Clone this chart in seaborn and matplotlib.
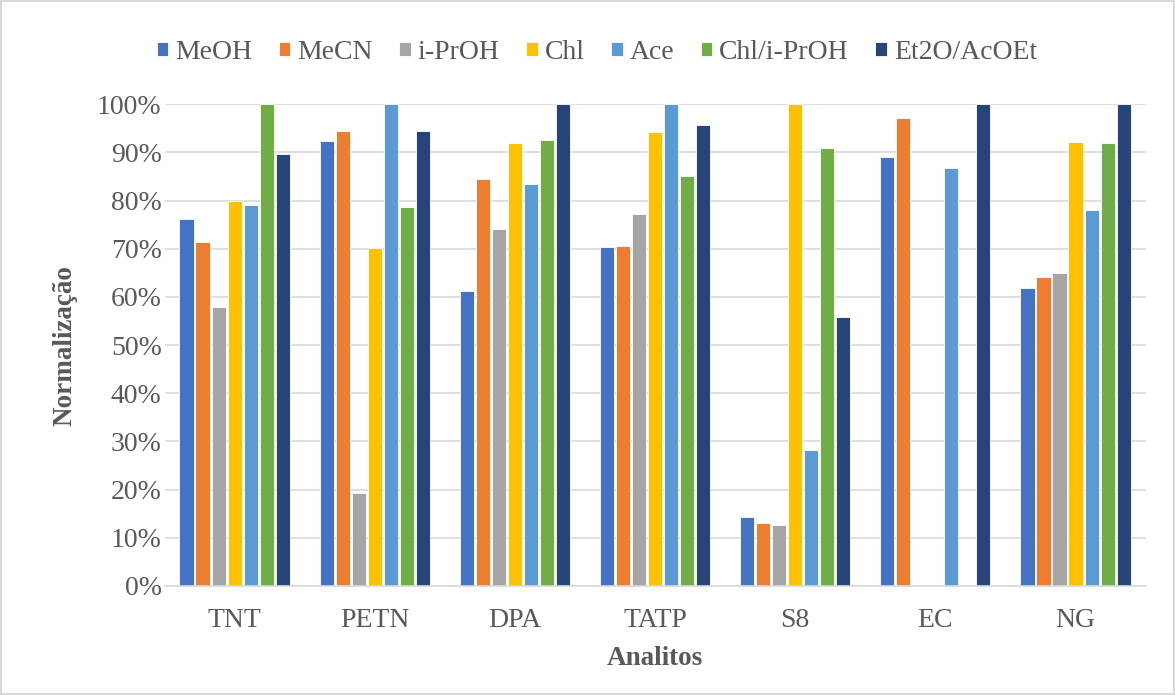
import pandas as pd
import numpy as np
import matplotlib.pyplot as plt
import seaborn as sns

analitos = ['TNT', 'PETN', 'DPA', 'TATP', 'S8', 'EC', 'NG']
solventes = ['MeOH', 'MeCN', 'i-PrOH', 'Chl', 'Ace', 'Chl/i-PrOH', 'Et2O/AcOEt']

# valores normalizados (%) por solvente, na ordem dos analitos
meoh      = [76.2, 92.3, 61.2, 70.4, 14.3, 89.0, 61.8]
mecn      = [71.5, 94.4, 84.4, 70.5, 13.0, 97.1, 64.1]
iproh     = [58.0, 19.2, 74.0, 77.2, 12.6, 0.0, 64.9]
chl       = [80.0, 70.2, 92.0, 94.2, 100.0, 0.0, 92.1]
ace       = [79.0, 100.0, 83.5, 100.0, 28.2, 86.8, 78.1]
chl_iproh = [100.0, 78.6, 92.6, 85.2, 90.9, 0.0, 91.9]
et2o      = [89.6, 94.4, 100.0, 95.6, 55.9, 100.0, 100.0]

cores = ['#4472C4', '#ED7D31', '#A5A5A5', '#FFC000', '#5B9BD5', '#70AD47', '#264478']

series = [meoh, mecn, iproh, chl, ace, chl_iproh, et2o]
df = pd.DataFrame([
    {'Analito': a, 'Solvente': s, 'Valor': v}
    for s, vals in zip(solventes, series)
    for a, v in zip(analitos, vals)
])

sns.set_style('white')
plt.rcParams['font.family'] = ['Liberation Serif', 'DejaVu Serif']

fig, ax = plt.subplots(figsize=(11.75, 6.95), dpi=100)
fig.patch.set_facecolor('white')
fig.patch.set_edgecolor('#D9D9D9')
fig.patch.set_linewidth(1.5)
fig.subplots_adjust(left=0.14, right=0.975, top=0.85, bottom=0.157)

sns.barplot(data=df, x='Analito', y='Valor', hue='Solvente',
            order=analitos, hue_order=solventes, palette=cores, saturation=1,
            width=0.8, gap=0.12, edgecolor='white', linewidth=0.6,
            errorbar=None, ax=ax)

ax.set_ylim(0, 100)
ax.set_yticks(np.arange(0, 101, 10))
ax.set_yticklabels([f'{t}%' for t in range(0, 101, 10)])
ax.tick_params(axis='both', labelsize=20, colors='#595959', length=0)
ax.tick_params(axis='y', pad=2)
ax.tick_params(axis='x', pad=16)
ax.yaxis.grid(True, color='#D9D9D9', linewidth=1.2)
ax.set_axisbelow(True)
for side in ['top', 'right', 'left']:
    ax.spines[side].set_visible(False)
ax.spines['bottom'].set_color('#D9D9D9')
ax.spines['bottom'].set_linewidth(1.2)

ax.set_xlabel('Analitos', fontsize=19.5, fontweight='bold', color='#595959', labelpad=9)
ax.set_ylabel('Normalização', fontsize=19.5, fontweight='bold', color='#595959', labelpad=14)

ax.legend(loc='center', bbox_to_anchor=(0.508, 0.925), bbox_transform=fig.transFigure,
          ncol=7, frameon=False, fontsize=20, handlelength=0.42, handleheight=0.42,
          handletextpad=0.25, columnspacing=0.95, labelcolor='#595959')

fig.savefig('out.png', dpi=100, facecolor=fig.get_facecolor(),
            edgecolor=fig.get_edgecolor())
plt.close(fig)
